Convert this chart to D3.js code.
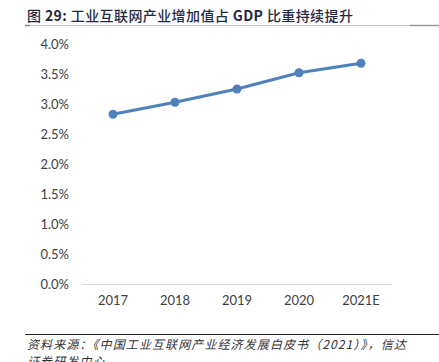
<!DOCTYPE html>
<html>
<head>
<meta charset="utf-8">
<script src="https://cdn.jsdelivr.net/npm/d3@7"></script>
<style>
  body { margin: 0; background: #fff; }
  svg { display: block; }
</style>
</head>
<body>
<div class="visHolder"></div>
<script>
var width = 439,
  height = 362;

var years = ["2017", "2018", "2019", "2020", "2021E"];
var shares = [2.83, 3.03, 3.25, 3.52, 3.68];
var yTicks = [0, 0.5, 1, 1.5, 2, 2.5, 3, 3.5, 4];

var svg = d3.select(".visHolder").append("svg").attr("width", width).attr("height", height);

// title
var title = svg.append("text")
  .attr("x", 27).attr("y", 21)
  .style("font-family", "'Noto Sans CJK SC', sans-serif")
  .style("font-size", "14px")
  .style("letter-spacing", "0.4px")
  .style("fill", "#1f2a44");
title.append("tspan").style("font-weight", "500").text("图 ");
title.append("tspan").style("font-weight", "bold").text("29:  ");
title.append("tspan").style("font-weight", "500").text("工业互联网产业增加值占 ");
title.append("tspan").style("font-weight", "bold").text("GDP ");
title.append("tspan").style("font-weight", "500").text("比重持续提升");

svg.append("line").attr("x1", 25).attr("x2", 439).attr("y1", 25.5).attr("y2", 25.5)
  .style("stroke", "#c8c8c8").style("stroke-width", 1);
svg.append("line").attr("x1", 25).attr("x2", 30).attr("y1", 25.5).attr("y2", 25.5)
  .style("stroke", "#888").style("stroke-width", 1.5);
svg.append("line").attr("x1", 410).attr("x2", 439).attr("y1", 25.5).attr("y2", 25.5)
  .style("stroke", "#999").style("stroke-width", 1.5);

var xScale = d3.scaleBand().domain(years).range([82, 392]);
var yScale = d3.scaleLinear().domain([0, 4]).range([284, 44]);

// y axis labels
var yAxis = d3.axisLeft(yScale).tickValues(yTicks).tickSize(0).tickPadding(0)
  .tickFormat(d => d3.format(".1f")(d) + "%");
var gy = svg.append("g").attr("transform", "translate(69,0)").call(yAxis);
gy.select(".domain").remove();
gy.selectAll("text")
  .style("font-family", "Lato, 'Open Sans', sans-serif")
  .style("font-size", "13px")
  .style("fill", "#404040");

// x axis
var xAxis = d3.axisBottom(xScale).tickSize(0).tickPadding(12);
var gx = svg.append("g").attr("transform", "translate(0,284)").call(xAxis);
gx.select(".domain").attr("d", "M82,0.5H392").style("stroke", "#d9d9d9");
gx.selectAll("text")
  .style("font-family", "Lato, 'Open Sans', sans-serif")
  .style("font-size", "13px")
  .style("fill", "#404040");

var cx = d => xScale(d) + xScale.bandwidth() / 2;

var line = d3.line()
  .x((d, i) => cx(years[i]))
  .y(d => yScale(d));

svg.append("path")
  .datum(shares)
  .attr("d", line)
  .style("fill", "none")
  .style("stroke", "#4f81bd")
  .style("stroke-width", 3);

svg.selectAll(".dot")
  .data(shares)
  .enter()
  .append("circle")
  .attr("class", "dot")
  .attr("r", 4.5)
  .attr("cx", (d, i) => cx(years[i]))
  .attr("cy", d => yScale(d))
  .style("fill", "#4f81bd");

// footer
svg.append("line").attr("x1", 25).attr("x2", 439).attr("y1", 334.5).attr("y2", 334.5)
  .style("stroke", "#222").style("stroke-width", 1);

var foot = svg.append("text")
  .style("font-family", "'Noto Sans CJK SC', sans-serif")
  .style("font-size", "12px")
  .style("font-style", "italic")
  .style("letter-spacing", "1.1px")
  .style("fill", "#333");
foot.append("tspan").attr("x", 27).attr("y", 349).text("资料来源：《中国工业互联网产业经济发展白皮书（2021）》，信达");
foot.append("tspan").attr("x", 27).attr("y", 366).text("证券研发中心");
</script>
</body>
</html>
